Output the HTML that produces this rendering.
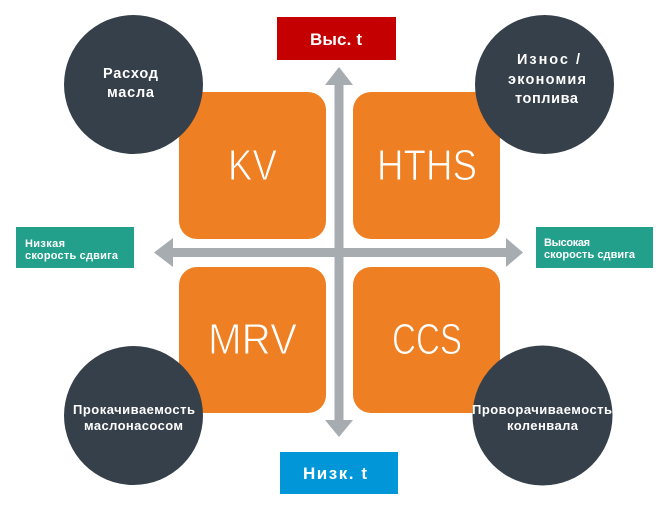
<!DOCTYPE html>
<html><head><meta charset="utf-8"><style>
html,body{margin:0;padding:0;background:#fff;}
svg{display:block;}
.c{font-family:"Liberation Sans","DejaVu Sans",sans-serif;font-weight:bold;fill:#fff;}
.big{font-family:"Liberation Sans","DejaVu Sans",sans-serif;font-weight:normal;fill:#fff;font-size:44px;stroke:#ee7f22;stroke-width:1px;}
</style></head><body>
<svg width="670" height="512" viewBox="0 0 670 512" xmlns="http://www.w3.org/2000/svg">
<rect width="670" height="512" fill="#fff"/>
<g fill="#a7acb0">
<rect x="334.5" y="84" width="9" height="337"/>
<polygon points="339,67 353,85 325,85"/>
<polygon points="325,420 353,420 339,437"/>
<rect x="172" y="248" width="335" height="9"/>
<polygon points="154,252.5 173,238 173,267"/>
<polygon points="523,252.5 506,238 506,267"/>
</g>
<g fill="#ee7f22">
<rect x="179" y="92" width="147" height="147" rx="18"/>
<rect x="353" y="92" width="147" height="147" rx="18"/>
<rect x="179" y="267" width="147" height="146" rx="18"/>
<rect x="353" y="267" width="147" height="146" rx="18"/>
</g>
<text class="big" x="228" y="180" textLength="49" lengthAdjust="spacingAndGlyphs">KV</text>
<text class="big" x="377" y="180" textLength="100" lengthAdjust="spacingAndGlyphs">HTHS</text>
<text class="big" x="208" y="354" textLength="89" lengthAdjust="spacingAndGlyphs">MRV</text>
<text class="big" x="392" y="354" textLength="70" lengthAdjust="spacingAndGlyphs">CCS</text>
<g fill="#36404a">
<circle cx="133.5" cy="84.5" r="69.5"/>
<circle cx="544.5" cy="84.5" r="69.5"/>
<circle cx="133.5" cy="415.5" r="69.5"/>
<circle cx="542.5" cy="415.5" r="70"/>
</g>
<text class="c" font-size="14.5" x="103" y="78" textLength="55" lengthAdjust="spacing">Расход</text>
<text class="c" font-size="14.5" x="107" y="97" textLength="47" lengthAdjust="spacing">масла</text>
<text class="c" font-size="14.5" x="517" y="64" textLength="63" lengthAdjust="spacing">Износ /</text>
<text class="c" font-size="14.5" x="508" y="84" textLength="78" lengthAdjust="spacing">экономия</text>
<text class="c" font-size="14.5" x="515" y="103" textLength="63" lengthAdjust="spacing">топлива</text>
<text class="c" font-size="13" x="73" y="414" textLength="122" lengthAdjust="spacing">Прокачиваемость</text>
<text class="c" font-size="13" x="84" y="430" textLength="99" lengthAdjust="spacing">маслонасосом</text>
<text class="c" font-size="13" x="472" y="414" textLength="140" lengthAdjust="spacing">Проворачиваемость</text>
<text class="c" font-size="13" x="507" y="430" textLength="71" lengthAdjust="spacing">коленвала</text>
<rect x="277" y="17" width="119" height="43" fill="#c40000"/>
<text class="c" font-size="17" x="310" y="45" textLength="52" lengthAdjust="spacing">Выс. t</text>
<rect x="280" y="452" width="118" height="42" fill="#0096d8"/>
<text class="c" font-size="17" x="303" y="479" textLength="64" lengthAdjust="spacing">Низк. t</text>
<rect x="16" y="227" width="118" height="41" fill="#22a08b"/>
<text class="c" font-size="11" x="25" y="247" textLength="40" lengthAdjust="spacing">Низкая</text>
<text class="c" font-size="11" x="25" y="259" textLength="93" lengthAdjust="spacing">скорость сдвига</text>
<rect x="536" y="227" width="117" height="41" fill="#22a08b"/>
<text class="c" font-size="11" x="544" y="246" textLength="46" lengthAdjust="spacing">Высокая</text>
<text class="c" font-size="11" x="544" y="258" textLength="91" lengthAdjust="spacing">скорость сдвига</text>
</svg>
</body></html>
